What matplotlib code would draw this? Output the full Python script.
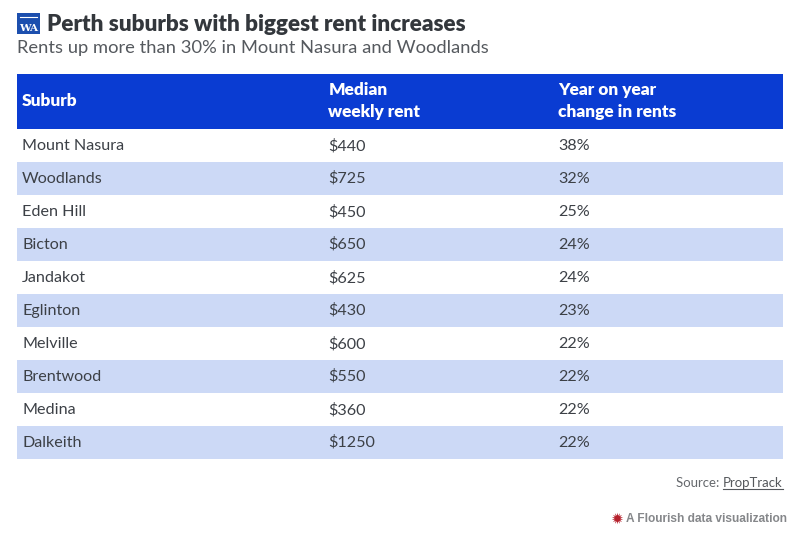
import matplotlib
matplotlib.use("Agg")
import matplotlib.pyplot as plt
from matplotlib.patches import Rectangle

suburbs = ["Mount Nasura", "Woodlands", "Eden Hill", "Bicton", "Jandakot",
           "Eglinton", "Melville", "Brentwood", "Medina", "Dalkeith"]
rents = ["$440", "$725", "$450", "$650", "$625", "$430", "$600", "$550", "$360", "$1250"]
changes = ["38%", "32%", "25%", "24%", "24%", "23%", "22%", "22%", "22%", "22%"]
headers = [["Suburb"], ["Median", "weekly rent"], ["Year on year", "change in rents"]]
title = "Perth suburbs with biggest rent increases"
subtitle = "Rents up more than 30% in Mount Nasura and Woodlands"

plt.rcParams["font.family"] = ["Lato", "DejaVu Sans"]
W, H = 801, 533
fig = plt.figure(figsize=(W / 100, H / 100), dpi=100)
ax = fig.add_axes([0, 0, 1, 1])
ax.set_xlim(0, W)
ax.set_ylim(H, 0)
ax.axis("off")

BLUE = "#0a3cd2"
STRIPE = "#ccd9f6"
INK = "#3c4046"
L, R = 17, 783
cols = [22, 328.5, 558]
head_top, head_bot, row_h = 74, 129, 33.0

# masthead logo
ax.add_patch(Rectangle((L, 13), 23, 21, color="#1c4fae", lw=0))
ax.plot([20, 37], [17.3, 17.3], color="white", lw=0.8)
ax.text(28.5, 31, "WA", color="white", fontsize=7.5, ha="center", va="baseline",
        family="DejaVu Serif", fontweight="bold")

ax.text(47, 31, title, fontsize=16.2, fontweight="heavy", color="#33373c", va="baseline")
ax.text(17, 53, subtitle, fontsize=13.2, color="#55595e", va="baseline")

# header
ax.add_patch(Rectangle((L, head_top), R - L, head_bot - head_top, color=BLUE, lw=0))
for x, lines in zip(cols, headers):
    base = [106] if len(lines) == 1 else [95, 117]
    for b, t in zip(base, lines):
        ax.text(x, b, t, color="white", fontsize=12.4, fontweight="heavy", va="baseline")

# rows
for i, (s, r, c) in enumerate(zip(suburbs, rents, changes)):
    y0 = head_bot + i * row_h
    if i % 2:
        ax.add_patch(Rectangle((L, y0), R - L, row_h, color=STRIPE, lw=0))
    for x, t in zip(cols, (s, r, c)):
        ax.text(x, y0 + 21, t, color=INK, fontsize=11.6, va="baseline")

# footer
link = ax.text(782.5, 487, "PropTrack", fontsize=9.5, color="#55585c", va="baseline", ha="right")
fig.canvas.draw()
bb = link.get_window_extent()
ax.text(bb.x0, 487, "Source: ", fontsize=9.5, color="#66696d", va="baseline", ha="right")
ax.plot([bb.x0, bb.x1], [488.7, 488.7], color="#55585c", lw=0.8)

ax.scatter([617], [518], marker=(14, 1, 0), s=70, color="#b5202c", lw=0)
ax.text(787, 522, "A Flourish data visualization", family="Liberation Sans", fontsize=8.6,
        fontweight="bold", color="#85878a", va="baseline", ha="right")

fig.savefig("out.png", dpi=100)
